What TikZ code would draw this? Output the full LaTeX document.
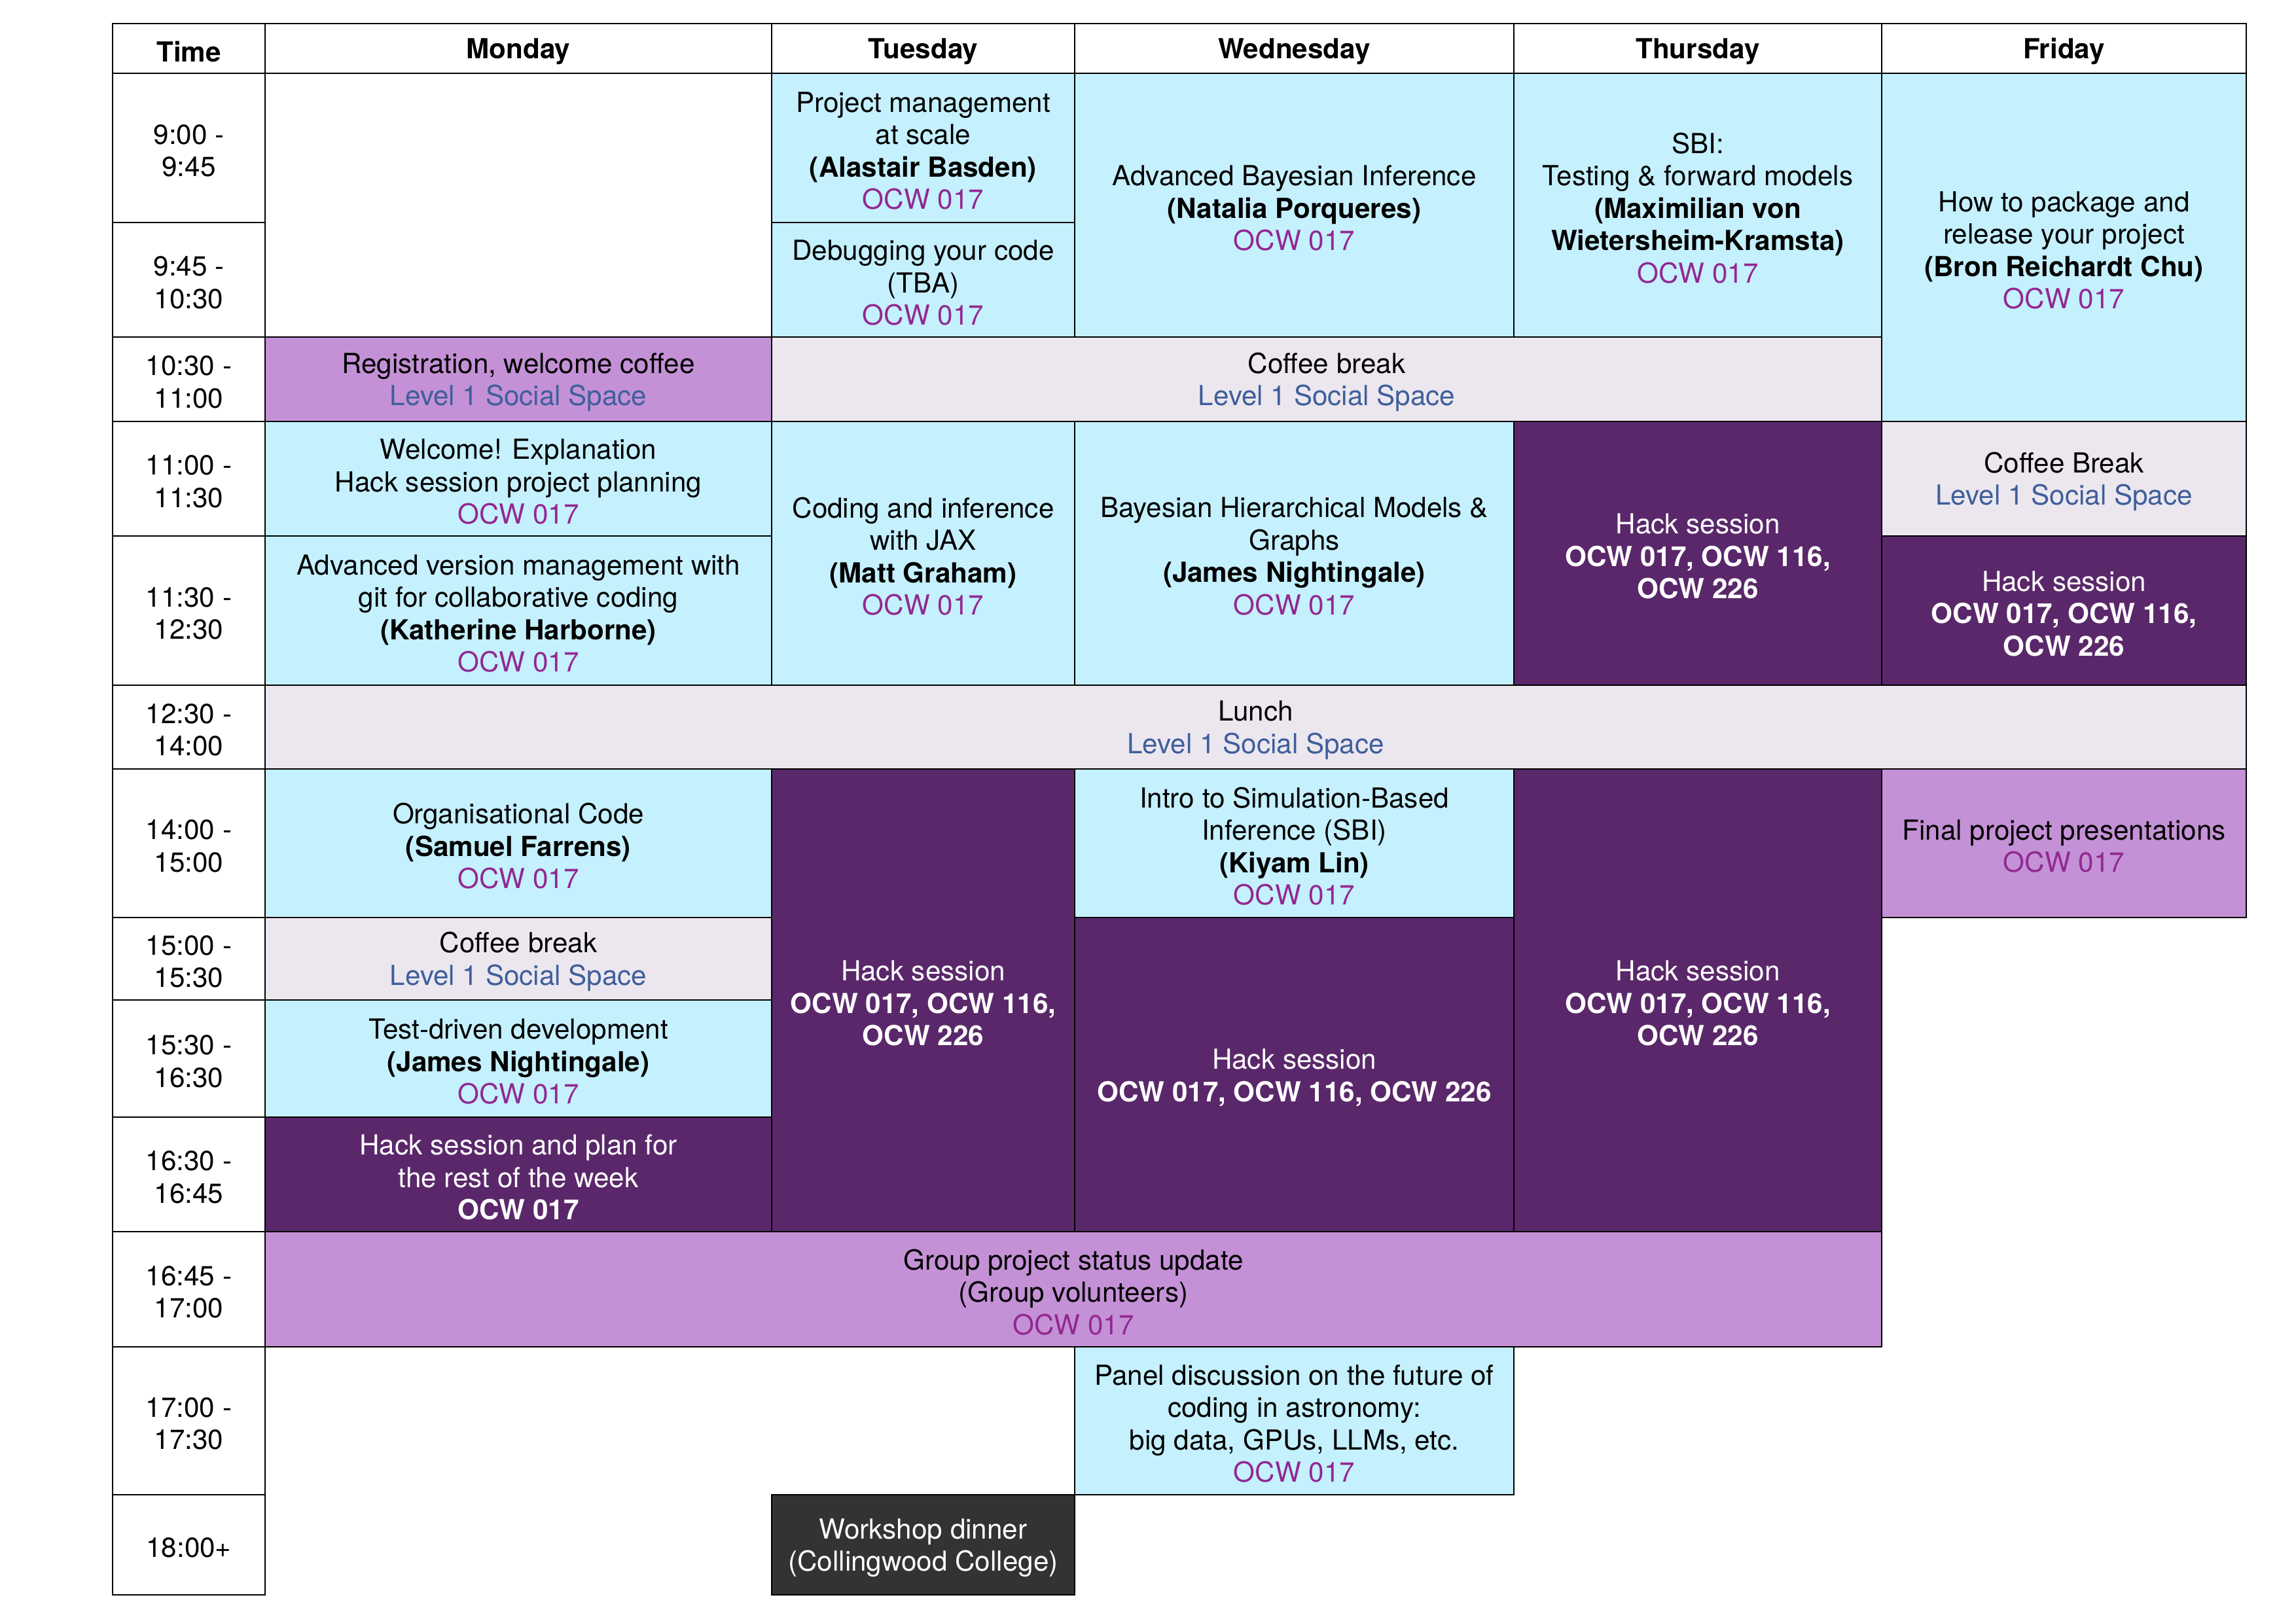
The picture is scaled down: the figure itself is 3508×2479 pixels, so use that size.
\documentclass[tikz,border=0pt]{standalone}
\usepackage{fontspec}
\setmainfont{TeX Gyre Heros}
\definecolor{clight}{RGB}{197,240,253}
\definecolor{cgrey}{RGB}{236,231,239}
\definecolor{cmid}{RGB}{196,145,214}
\definecolor{cdark}{RGB}{90,40,106}
\definecolor{cdinner}{RGB}{51,51,51}
\definecolor{cocw}{RGB}{146,40,146}
\definecolor{clevel}{RGB}{63,95,155}
\newcommand\ocwroom{{\color{cocw}OCW 017}}
\newcommand\socialspace{{\color{clevel}Level 1 Social Space}}
\newcommand\hackrooms{Hack session\\\textbf{OCW 017, OCW 116,}\\\textbf{OCW 226}}
\newcommand\cellbox[7]{%
  \node[cell,#6,minimum width={(#4-#2)*0.1mm},minimum height={(#5-#3)*0.1mm}] (#1) at ({(#2+#4)/2},{(#3+#5)/2}) {};
  \node[celltext,#6] (#1-t) at ([yshift=-0.45mm]#1.center) {#7};}
\tikzset{
  cell/.style={inner sep=0pt, outer sep=0pt},
  celltext/.style={inner sep=0pt, outer sep=0pt, align=center, font=\fontsize{12}{14.1}\selectfont, text=black, fill=none},
  whitecell/.style={fill=white},
  lightcell/.style={fill=clight},
  greycell/.style={fill=cgrey},
  midcell/.style={fill=cmid},
  darkcell/.style={fill=cdark, text=white},
  dinnercell/.style={fill=cdinner, text=white},
  gridline/.style={draw=black, line width=0.6pt},
}
\begin{document}
\begin{tikzpicture}[x=0.1mm,y=-0.1mm]
\useasboundingbox (0,0) rectangle (3508,2479);
% header
\cellbox{hdrtime}{172}{36}{405}{112}{whitecell}{\textbf{Time}}
\cellbox{hdrmon}{405}{36}{1179}{112}{whitecell}{\textbf{Monday}}
\cellbox{hdrtue}{1179}{36}{1642}{112}{whitecell}{\textbf{Tuesday}}
\cellbox{hdrwed}{1642}{36}{2313}{112}{whitecell}{\textbf{Wednesday}}
\cellbox{hdrthu}{2313}{36}{2875}{112}{whitecell}{\textbf{Thursday}}
\cellbox{hdrfri}{2875}{36}{3432}{112}{whitecell}{\textbf{Friday}}
% time column
\cellbox{t1}{172}{112}{405}{340}{whitecell}{9:00 -\\9:45}
\cellbox{t2}{172}{340}{405}{515}{whitecell}{9:45 -\\10:30}
\cellbox{t3}{172}{515}{405}{644}{whitecell}{10:30 -\\11:00}
\cellbox{t4}{172}{644}{405}{819}{whitecell}{11:00 -\\11:30}
\cellbox{t5}{172}{819}{405}{1047}{whitecell}{11:30 -\\12:30}
\cellbox{t6}{172}{1047}{405}{1175}{whitecell}{12:30 -\\14:00}
\cellbox{t7}{172}{1175}{405}{1402}{whitecell}{14:00 -\\15:00}
\cellbox{t8}{172}{1402}{405}{1528}{whitecell}{15:00 -\\15:30}
\cellbox{t9}{172}{1528}{405}{1707}{whitecell}{15:30 -\\16:30}
\cellbox{t10}{172}{1707}{405}{1882}{whitecell}{16:30 -\\16:45}
\cellbox{t11}{172}{1882}{405}{2058}{whitecell}{16:45 -\\17:00}
\cellbox{t12}{172}{2058}{405}{2284}{whitecell}{17:00 -\\17:30}
\cellbox{t13}{172}{2284}{405}{2437}{whitecell}{18:00+}
% Monday
\cellbox{mon0}{405}{112}{1179}{515}{whitecell}{}
\cellbox{mon1}{405}{515}{1179}{644}{midcell}{Registration, welcome coffee\\\socialspace}
\cellbox{mon2}{405}{644}{1179}{819}{lightcell}{Welcome! Explanation\\Hack session project planning\\\ocwroom}
\cellbox{mon3}{405}{819}{1179}{1047}{lightcell}{Advanced version management with\\git for collaborative coding\\\textbf{(Katherine Harborne)}\\\ocwroom}
\cellbox{mon4}{405}{1175}{1179}{1402}{lightcell}{Organisational Code\\\textbf{(Samuel Farrens)}\\\ocwroom}
\cellbox{mon5}{405}{1402}{1179}{1528}{greycell}{Coffee break\\\socialspace}
\cellbox{mon6}{405}{1528}{1179}{1707}{lightcell}{Test-driven development\\\textbf{(James Nightingale)}\\\ocwroom}
\cellbox{mon7}{405}{1707}{1179}{1882}{darkcell}{Hack session and plan for\\the rest of the week\\\textbf{OCW 017}}
% Tuesday
\cellbox{tue1}{1179}{112}{1642}{340}{lightcell}{Project management\\at scale\\\textbf{(Alastair Basden)}\\\ocwroom}
\cellbox{tue2}{1179}{340}{1642}{515}{lightcell}{Debugging your code\\(TBA)\\\ocwroom}
\cellbox{coffee1}{1179}{515}{2875}{644}{greycell}{Coffee break\\\socialspace}
\cellbox{tue3}{1179}{644}{1642}{1047}{lightcell}{Coding and inference\\with JAX\\\textbf{(Matt Graham)}\\\ocwroom}
\cellbox{tue4}{1179}{1175}{1642}{1882}{darkcell}{\hackrooms}
\cellbox{tue5}{1179}{2284}{1642}{2437}{dinnercell}{Workshop dinner\\(Collingwood College)}
% Wednesday
\cellbox{wed1}{1642}{112}{2313}{515}{lightcell}{Advanced Bayesian Inference\\\textbf{(Natalia Porqueres)}\\\ocwroom}
\cellbox{wed2}{1642}{644}{2313}{1047}{lightcell}{Bayesian Hierarchical Models \&\\Graphs\\\textbf{(James Nightingale)}\\\ocwroom}
\cellbox{wed3}{1642}{1175}{2313}{1402}{lightcell}{Intro to Simulation-Based\\Inference (SBI)\\\textbf{(Kiyam Lin)}\\\ocwroom}
\cellbox{wed4}{1642}{1402}{2313}{1882}{darkcell}{Hack session\\\textbf{OCW 017, OCW 116, OCW 226}}
\cellbox{wed5}{1642}{2058}{2313}{2284}{lightcell}{Panel discussion on the future of\\coding in astronomy:\\big data, GPUs, LLMs, etc.\\\ocwroom}
% Thursday
\cellbox{thu1}{2313}{112}{2875}{515}{lightcell}{SBI:\\Testing \& forward models\\\textbf{(Maximilian von}\\\textbf{Wietersheim-Kramsta)}\\\ocwroom}
\cellbox{thu2}{2313}{644}{2875}{1047}{darkcell}{\hackrooms}
\cellbox{thu3}{2313}{1175}{2875}{1882}{darkcell}{\hackrooms}
% Friday
\cellbox{fri1}{2875}{112}{3432}{644}{lightcell}{How to package and\\release your project\\\textbf{(Bron Reichardt Chu)}\\\ocwroom}
\cellbox{fri2}{2875}{644}{3432}{819}{greycell}{Coffee Break\\\socialspace}
\cellbox{fri3}{2875}{819}{3432}{1047}{darkcell}{\hackrooms}
\cellbox{fri4}{2875}{1175}{3432}{1402}{midcell}{Final project presentations\\\ocwroom}
% spanning rows
\cellbox{lunch}{405}{1047}{3432}{1175}{greycell}{Lunch\\\socialspace}
\cellbox{group}{405}{1882}{2875}{2058}{midcell}{Group project status update\\(Group volunteers)\\\ocwroom}
% borders
\foreach \n in {hdrtime,hdrmon,hdrtue,hdrwed,hdrthu,hdrfri,t1,t2,t3,t4,t5,t6,t7,t8,t9,t10,t11,t12,t13,mon0,mon1,mon2,mon3,mon4,mon5,mon6,mon7,tue1,tue2,coffee1,tue3,tue4,tue5,wed1,wed2,wed3,wed4,wed5,thu1,thu2,thu3,fri1,fri2,fri3,fri4,lunch,group}
  \draw[gridline] (\n.north west) rectangle (\n.south east);
\end{tikzpicture}
\end{document}
